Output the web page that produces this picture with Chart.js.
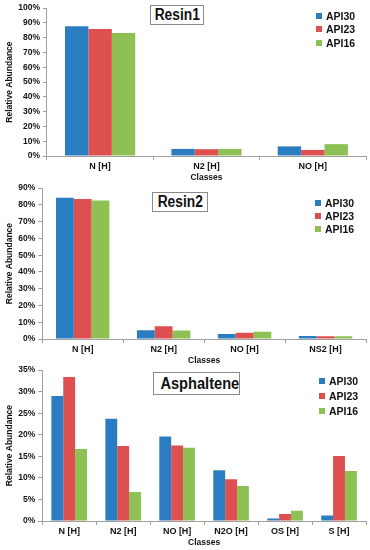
<!DOCTYPE html>
<html>
<head>
<meta charset="utf-8">
<script src="https://cdn.jsdelivr.net/npm/chart.js@4"></script>
<style>
  body { margin: 0; background: #fff; font-family: "Liberation Sans", Arial, sans-serif; }
  #wrap { position: relative; width: 370px; height: 550px; }
  .box { position: absolute; left: 0; width: 370px; }
  .box canvas { position: absolute; left: 0; top: 0; }
  .title {
    position: absolute; border: 1px solid #8a8a8a; background: #fff;
    font-weight: bold; color: #111; text-align: center; box-sizing: border-box;
    white-space: nowrap;
  }
  .title span { display: inline-block; transform: scaleX(0.86); }
  .legend { position: absolute; font-weight: bold; color: #111; font-size: 10.5px; }
  .legend div { display: flex; align-items: center; white-space: nowrap; }
  .legend span.sw { display: inline-block; width: 6px; height: 6px; margin-right: 4px; }
</style>
</head>
<body>
<div id="wrap"></div>
<script>
// Series names and colors
const seriesNames = ['API30', 'API23', 'API16'];
const seriesColors = ['#2a7dc1', '#de4f4f', '#8dc153'];

// Resin1 (values in %)
const resin1Classes = ['N [H]', 'N2 [H]', 'NO [H]'];
const resin1API30 = [87.8, 4.8, 6.5];
const resin1API23 = [85.8, 4.6, 4.1];
const resin1API16 = [83.2, 4.8, 8.0];

// Resin2
const resin2Classes = ['N [H]', 'N2 [H]', 'NO [H]', 'NS2 [H]'];
const resin2API30 = [84.3, 5.2, 3.0, 1.8];
const resin2API23 = [83.5, 7.6, 3.7, 1.6];
const resin2API16 = [82.6, 5.0, 4.3, 1.6];

// Asphaltene
const asphClasses = ['N [H]', 'N2 [H]', 'NO [H]', 'N2O [H]', 'OS [H]', 'S [H]'];
const asphAPI30 = [29.0, 23.7, 19.6, 11.8, 0.6, 1.3];
const asphAPI23 = [33.4, 17.4, 17.5, 9.7, 1.6, 15.1];
const asphAPI16 = [16.7, 6.7, 17.0, 8.1, 2.4, 11.6];

const panels = [
  { top: 0, height: 183, padTop: 5, title: 'Resin1', labels: resin1Classes,
    series: [resin1API30, resin1API23, resin1API16], max: 100, step: 10,
    titleBox: { left: 150, top: 5, width: 54, height: 20, size: 16 },
    legend: { left: 316, top: 9, row: 13.5 } },
  { top: 180, height: 186, padTop: 8, title: 'Resin2', labels: resin2Classes,
    series: [resin2API30, resin2API23, resin2API16], max: 90, step: 10,
    titleBox: { left: 152, top: 12, width: 56, height: 20, size: 16 },
    legend: { left: 315, top: 16, row: 13 } },
  { top: 362, height: 186, padTop: 8, title: 'Asphaltene', labels: asphClasses,
    series: [asphAPI30, asphAPI23, asphAPI16], max: 35, step: 5,
    titleBox: { left: 153, top: 10, width: 87, height: 23, size: 17 },
    legend: { left: 319, top: 11, row: 15 } }
];

const wrap = document.getElementById('wrap');
const tickFont = { family: 'Liberation Sans', size: 8.5, weight: 'bold' };
const xTickFont = { family: 'Liberation Sans', size: 9, weight: 'bold' };

panels.forEach(p => {
  const box = document.createElement('div');
  box.className = 'box';
  box.style.top = p.top + 'px';
  box.style.height = p.height + 'px';
  const canvas = document.createElement('canvas');
  canvas.width = 370;
  canvas.height = p.height;
  box.appendChild(canvas);
  wrap.appendChild(box);

  new Chart(canvas.getContext('2d'), {
    type: 'bar',
    data: {
      labels: p.labels,
      datasets: p.series.map((vals, i) => ({
        label: seriesNames[i],
        data: vals,
        backgroundColor: seriesColors[i],
        barPercentage: 1,
        categoryPercentage: 0.66
      }))
    },
    options: {
      responsive: false,
      animation: false,
      layout: { padding: { top: p.padTop, right: 4, left: 0, bottom: 0 } },
      plugins: { legend: { display: false }, tooltip: { enabled: false } },
      scales: {
        x: {
          grid: { drawOnChartArea: false, tickLength: 4, color: '#a0a0a0' },
          border: { color: '#a0a0a0' },
          ticks: { font: xTickFont, color: '#111', padding: 1 },
          title: { display: true, text: 'Classes', font: tickFont, color: '#111', padding: 0 }
        },
        y: {
          min: 0, max: p.max,
          grid: { drawOnChartArea: false, tickLength: 4, color: '#a0a0a0' },
          border: { color: '#a0a0a0' },
          ticks: { stepSize: p.step, font: tickFont, color: '#111', padding: 3,
                   callback: v => v + '%' },
          title: { display: true, text: 'Relative Abundance', font: tickFont, color: '#111',
                   padding: { top: 5, bottom: 0 } }
        }
      }
    }
  });

  const t = document.createElement('div');
  t.className = 'title';
  const tb = p.titleBox;
  t.style.left = tb.left + 'px';
  t.style.top = tb.top + 'px';
  t.style.width = tb.width + 'px';
  t.style.height = tb.height + 'px';
  t.style.fontSize = tb.size + 'px';
  t.style.lineHeight = (tb.height - 2) + 'px';
  const ts = document.createElement('span');
  ts.textContent = p.title;
  t.appendChild(ts);
  box.appendChild(t);

  const lg = document.createElement('div');
  lg.className = 'legend';
  lg.style.left = p.legend.left + 'px';
  lg.style.top = p.legend.top + 'px';
  seriesNames.forEach((name, i) => {
    const row = document.createElement('div');
    row.style.height = p.legend.row + 'px';
    const sw = document.createElement('span');
    sw.className = 'sw';
    sw.style.background = seriesColors[i];
    row.appendChild(sw);
    row.appendChild(document.createTextNode(name));
    lg.appendChild(row);
  });
  box.appendChild(lg);
});
</script>
</body>
</html>
